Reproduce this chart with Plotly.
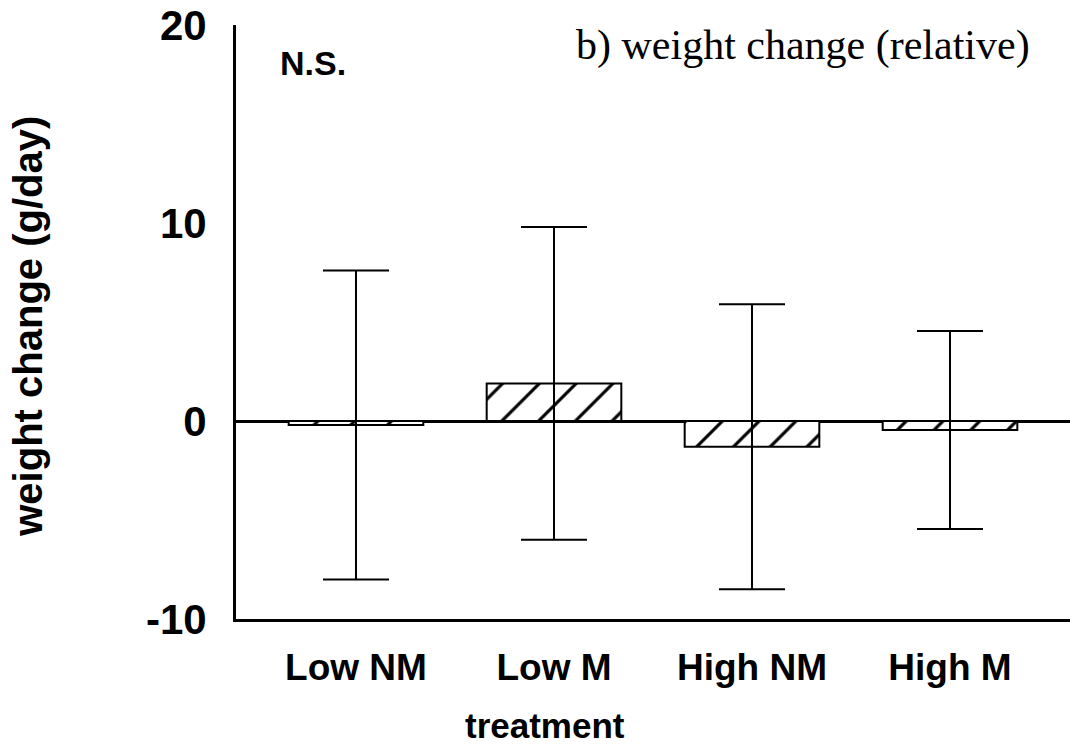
import plotly.graph_objects as go

categories = ["Low NM", "Low M", "High NM", "High M"]
means = [-0.2, 1.9, -1.3, -0.45]
errors = [7.8, 7.9, 7.2, 5.0]
y_ticks = [-10, 0, 10, 20]

fig = go.Figure()
fig.add_trace(go.Bar(
    x=list(range(len(categories))),
    y=means,
    width=0.68,
    marker=dict(
        color="white",
        line=dict(color="black", width=2),
        pattern=dict(shape="/", fgcolor="black", bgcolor="white", fgopacity=1,
                     size=26, solidity=0.12),
    ),
    error_y=dict(type="data", array=errors, visible=True, color="black", thickness=2, width=33),
    showlegend=False,
))

sans = "Liberation Sans"
fig.update_layout(
    width=1070, height=751,
    margin=dict(l=236, r=0, t=25, b=132),
    paper_bgcolor="white", plot_bgcolor="white",
    xaxis=dict(
        range=[-0.606, 3.606],
        tickmode="array", tickvals=list(range(len(categories))),
        ticktext=[f"<b>{c}</b>" for c in categories],
        showline=True, linecolor="black", linewidth=3,
        showgrid=False, zeroline=False, ticks="",
        tickfont=dict(family=sans, size=37, color="black"),
        ticklabelstandoff=14,
    ),
    yaxis=dict(
        range=[-10, 20],
        tickmode="array", tickvals=y_ticks, ticktext=[f"<b>{v}</b>" for v in y_ticks],
        showline=True, linecolor="black", linewidth=3,
        showgrid=False, zeroline=True, zerolinecolor="black", zerolinewidth=3,
        ticks="", tickfont=dict(family=sans, size=42, color="black"), ticklabelstandoff=18,
    ),
    annotations=[
        dict(text="<b>weight change (g/day)</b>", xref="paper", yref="paper",
             x=(28 - 236) / 834, y=0.492, xanchor="center", yanchor="middle",
             textangle=-90, showarrow=False,
             font=dict(family=sans, size=40, color="black")),
        dict(text="<b>treatment</b>", xref="paper", yref="paper",
             x=0.3705, y=-0.18, xanchor="center", yanchor="middle", showarrow=False,
             font=dict(family=sans, size=35, color="black")),
        dict(text="<b>N.S.</b>", xref="paper", yref="paper", x=0.05, y=0.936,
             xanchor="left", yanchor="middle", showarrow=False,
             font=dict(family=sans, size=34, color="black")),
        dict(text="b) weight change (relative)", xref="paper", yref="paper", x=0.955, y=0.966,
             xanchor="right", yanchor="middle", showarrow=False,
             font=dict(family="Liberation Serif", size=42, color="black")),
    ],
)

fig.write_html("out.html")
